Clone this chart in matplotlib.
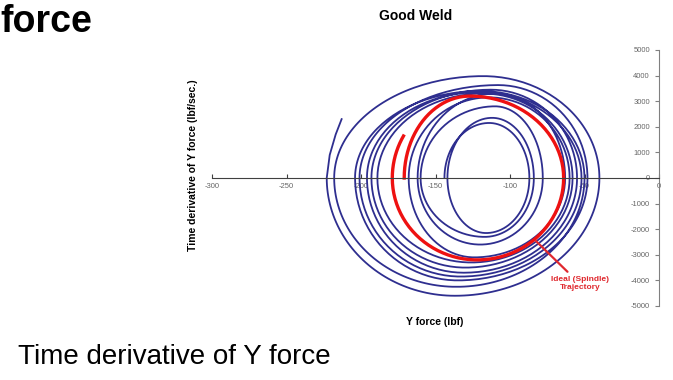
## Phase plot of Y force vs its time derivative (good weld)
import numpy as np
import matplotlib
matplotlib.use("Agg")
import matplotlib.pyplot as plt

plt.rcParams['font.family'] = ['Liberation Sans', 'DejaVu Sans']
plt.rcParams['axes.unicode_minus'] = False

## Measured loops of the weld trajectory (read off the chart)
# each loop: left extreme, top point, right extreme, bottom point
loop_left  = [-144, -142, -160, -162, -168, -189, -193, -196, -201, -204, -218]
loop_top_x = [-114, -112, -110, -110, -114, -118, -113, -121, -108, -120, -118]
loop_top   = [2150, 2350, 2800, 3300, 3150, 3300, 3450, 3350, 3630, 3400, 3980]
loop_right = [-87, -84, -78, -63, -60, -58, -55, -52, -48, -50, -40]
loop_bot_x = [-116, -117, -120, -124, -126, -130, -131, -133, -135, -136, -137]
loop_bot   = [-2150, -2300, -2600, -3100, -3300, -3500, -3700, -3850, -4000, -4250, -4600]
final_left = -223
tail_x = [-221, -217, -213]
tail_y = [900, 1700, 2300]

## Ideal (spindle) trajectory
ideal_left = [-171, -179]
ideal_top_x, ideal_top = -127, 3200
ideal_right = -64
ideal_bot_x, ideal_bot = -122, -3200

x_ticks = [-300, -250, -200, -150, -100, -50, 0]
y_ticks = [-5000, -4000, -3000, -2000, -1000, 0, 1000, 2000, 3000, 4000, 5000]


def arc(p, q, frac=1.0, n=50):
    # quarter ellipse between an axis crossing and a top/bottom point
    t = np.linspace(0, np.pi / 2 * frac, n)
    if p[1] == 0:
        return q[0] + (p[0] - q[0]) * np.cos(t), q[1] * np.sin(t)
    return p[0] + (q[0] - p[0]) * np.sin(t), p[1] * np.cos(t)


def trace(points, last_frac=1.0):
    xs, ys = [], []
    for i in range(len(points) - 1):
        f = last_frac if i == len(points) - 2 else 1.0
        x, y = arc(points[i], points[i + 1], f)
        xs.append(x)
        ys.append(y)
    return np.concatenate(xs), np.concatenate(ys)


pts = []
for i in range(len(loop_left)):
    pts += [(loop_left[i], 0), (loop_top_x[i], loop_top[i]),
            (loop_right[i], 0), (loop_bot_x[i], loop_bot[i])]
pts.append((final_left, 0))
weld_x, weld_y = trace(pts)
weld_x = np.concatenate([weld_x, tail_x])
weld_y = np.concatenate([weld_y, tail_y])

red_pts = [(ideal_left[0], 0), (ideal_top_x, ideal_top), (ideal_right, 0),
           (ideal_bot_x, ideal_bot), (ideal_left[1], 0), (ideal_top_x - 1, ideal_top - 60)]
red_x, red_y = trace(red_pts, last_frac=0.35)

## Plot
fig = plt.figure(figsize=(6.73, 3.80), dpi=100)
ax = fig.add_axes([212 / 673, 1 - 306 / 380, 447 / 673, 256 / 380])

ax.plot(weld_x, weld_y, color='#2e2e8f', lw=1.3)
ax.plot(red_x, red_y, color='#ee1111', lw=2.4)

ax.set_xlim(-300, 0)
ax.set_ylim(-5000, 5000)
ax.set_xticks(x_ticks)
ax.set_yticks(y_ticks)

ax.spines['left'].set_position(('data', 0))
ax.spines['bottom'].set_position(('data', 0))
ax.spines['top'].set_visible(False)
ax.spines['right'].set_visible(False)
ax.spines['left'].set_color('#808080')
ax.spines['bottom'].set_color('#404040')
ax.tick_params(axis='x', direction='in', length=3, labelsize=5.5, colors='#404040', labelcolor='#666666')
ax.tick_params(axis='y', direction='out', length=3, labelsize=5.5, colors='#808080', labelcolor='#666666')

ax.annotate('Ideal (Spindle)\nTrajectory', xy=(-82.6, -2461), xytext=(-53, -4140),
            ha='center', va='center', color='#e0282e', fontsize=6, fontweight='bold',
            arrowprops=dict(arrowstyle='-', color='#e0282e', lw=1.6, shrinkA=2, shrinkB=0))

fig.text(416 / 673, 1 - 16 / 380, 'Good Weld', ha='center', va='center', fontsize=10, fontweight='bold')
fig.text(435 / 673, 1 - 322 / 380, 'Y force (lbf)', ha='center', va='center', fontsize=7.5, fontweight='bold')
fig.text(193 / 673, 1 - 165 / 380, 'Time derivative of Y force (lbf/sec.)', ha='center', va='center',
         rotation=90, fontsize=7.5, fontweight='bold')
fig.text(0, 1 - 4 / 380, 'force', ha='left', va='top', fontsize=27, fontweight='bold')
fig.text(18 / 673, 1 - 357 / 380, 'Time derivative of Y force', ha='left', va='center', fontsize=20)

plt.savefig('out.png', dpi=100)
